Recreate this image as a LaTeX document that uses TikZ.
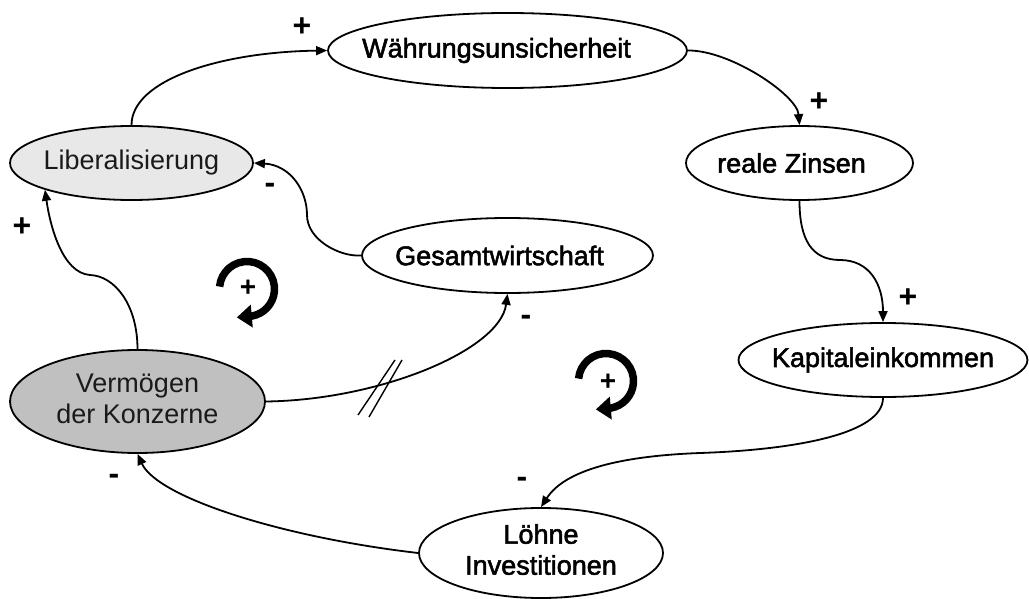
\documentclass[tikz,border=0pt]{standalone}
\usepackage{fontspec}
\setmainfont{Liberation Sans}
\newfontfamily\heavyfont[FakeBold=2]{Liberation Sans}
\usetikzlibrary{shapes.geometric,arrows.meta}

\definecolor{paleGray}{HTML}{E8E8E8}
\definecolor{midGray}{HTML}{C0C0C0}
\definecolor{softBlack}{HTML}{1A1A1A}

\tikzset{
  factor/.style={ellipse, draw, line width=1.8pt, inner sep=0pt, fill=white,
    font=\heavyfont\fontsize{27}{31}\selectfont},
  driver/.style={factor, text=softBlack, font=\fontsize{27}{31}\selectfont},
  link/.style={line width=1.8pt, -{Triangle[length=11pt,width=9pt]}},
  sign/.style={inner sep=0pt, font=\bfseries\fontsize{32}{32}\selectfont},
  loopline/.style={line width=7.5pt, -{Triangle[length=15pt,width=22pt]}},
  loopsign/.style={inner sep=0pt, font=\bfseries\fontsize{28}{28}\selectfont},
  slash/.style={line width=1.4pt}
}

% label centred in its ellipse, moved left by #1
\newcommand{\lbl}[2][0pt]{\makebox[0pt]{\kern-#1#2\kern#1}}
\newcommand{\twolines}[2]{\makebox[0pt]{\begin{tabular}{@{}c@{}}#1\\#2\end{tabular}}}

\begin{document}
\begin{tikzpicture}[x=1pt,y=1pt]
\path[use as bounding box] (0,0) rectangle (1029,-599);

% factors of the causal loop diagram
\node[factor, minimum width=359pt, minimum height=75pt] (wah) at (507.5,-50.5) {\lbl[11pt]{Währungsunsicherheit}};
\node[driver, fill=paleGray, minimum width=243pt, minimum height=74pt] (lib) at (131.5,-163) {\lbl{Liberalisierung}};
\node[factor, minimum width=227pt, minimum height=74pt] (rz) at (799.5,-163) {\lbl[8pt]{reale Zinsen}};
\node[factor, minimum width=291pt, minimum height=75pt] (ges) at (507.5,-255.5) {\lbl[8pt]{Gesamtwirtschaft}};
\node[factor, minimum width=289pt, minimum height=74pt] (kap) at (883,-360) {\lbl{Kapitaleinkommen}};
\node[driver, fill=midGray, minimum width=255pt, minimum height=103pt] (ver) at (137.5,-401.5) {\twolines{Vermögen}{der Konzerne}};
\node[factor, minimum width=244pt, minimum height=90pt] (loe) at (541,-553) {\twolines{Löhne}{Investitionen}};

% causal links
\draw[link] (lib.north) .. controls (131.5,-80) and (220,-52) .. (wah.west);
\draw[link] (wah.east) .. controls (730,-50) and (797,-95) .. (rz.north);
\draw[link] (rz.south) .. controls (799.5,-240) and (812,-260) .. (840,-260)
            .. controls (870,-260) and (883,-285) .. (kap.north);
\draw[link] (kap.south) .. controls (883,-435) and (790,-450) .. (700,-453)
            .. controls (620,-456) and (565,-470) .. (loe.north);
\draw[link] (loe.west) .. controls (280,-537) and (157,-497) .. (ver.south);
\draw[link] (ver.north) .. controls (137.5,-305) and (115,-276) .. (90,-275)
            .. controls (62,-273) and (50,-225) .. (lib.south west);
\draw[link] (ver.east) .. controls (380,-400) and (500,-350) .. (ges.south);
\draw[link] (ges.west) .. controls (340,-257) and (307,-240) .. (307,-215)
            .. controls (307,-190) and (290,-165) .. (lib.east);

% delay mark on the link to Gesamtwirtschaft
\coordinate (cut) at (380,-387);
\draw[slash] ([shift={(-22,-28)}]cut) -- ([shift={(15,27)}]cut);
\draw[slash] ([shift={(-11,-30)}]cut) -- ([shift={(22,27)}]cut);

% polarities
\node[sign] (s1) at (302,-27) {+};
\node[sign] (s2) at (819,-102) {+};
\node[sign] (s3) at (908,-298) {+};
\node[sign] (s4) at (522,-482) {-};
\node[sign] (s5) at (114,-479) {-};
\node[sign] (s6) at (22,-227) {+};
\node[sign] (s7) at (526,-320) {-};
\node[sign] (s8) at (270,-188) {-};

% reinforcing loop markers
\coordinate (loopA) at (247,-289);
\coordinate (loopB) at (606,-381);
\draw[loopline] ([shift={(175:27.5)}]loopA) arc[start angle=175, end angle=-80, radius=27.5] -- ++(185:15);
\draw[loopline] ([shift={(175:27.5)}]loopB) arc[start angle=175, end angle=-80, radius=27.5] -- ++(185:15);
\node[loopsign] (pA) at (248,-288) {+};
\node[loopsign] (pB) at (608,-382) {+};
\end{tikzpicture}
\end{document}
